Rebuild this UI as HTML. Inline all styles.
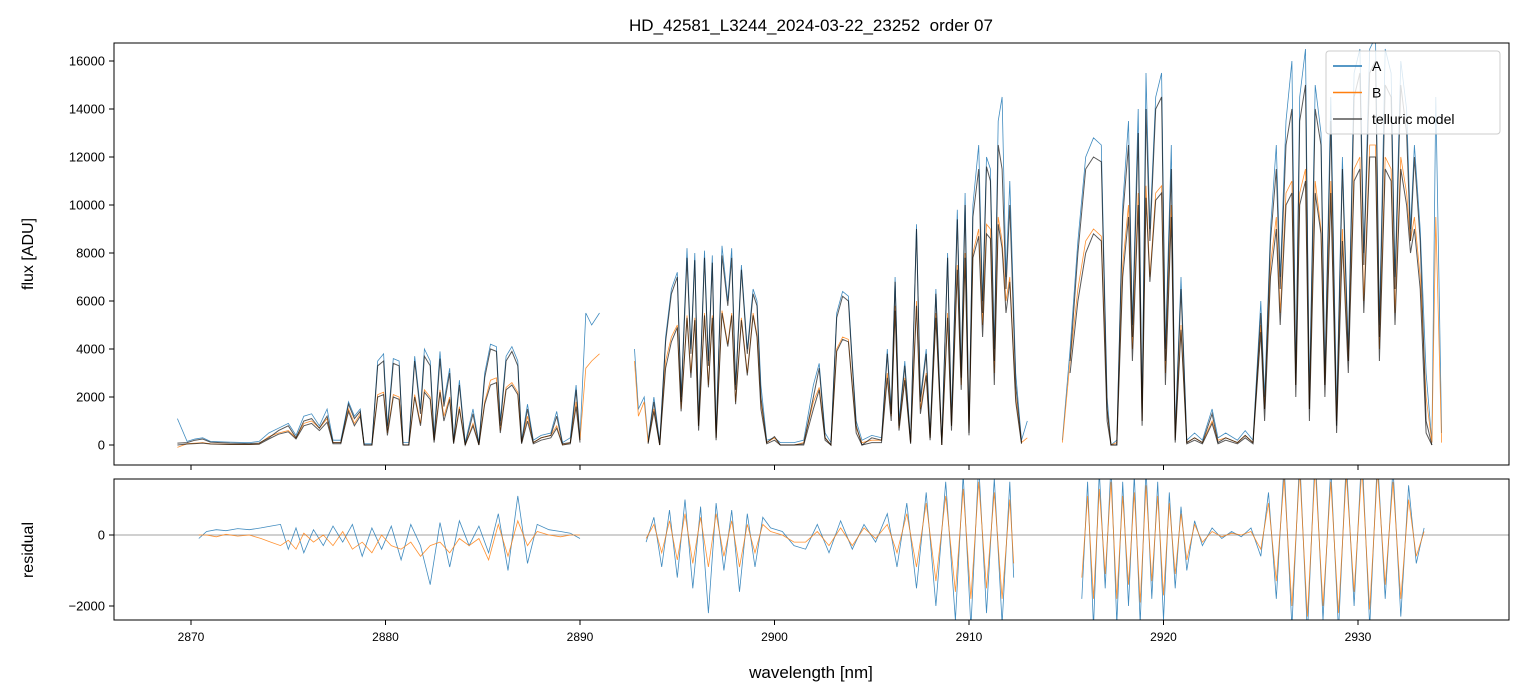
<!DOCTYPE html>
<html><head><meta charset="utf-8">
<style>
html,body{margin:0;padding:0;background:#fff;}
svg{display:block;font-family:"Liberation Sans","DejaVu Sans",sans-serif;}
</style></head>
<body>
<svg id="chart" width="1523" height="696" viewBox="0 0 1523 696" xmlns="http://www.w3.org/2000/svg">
<defs>
<clipPath id="clipTop"><rect x="114" y="43" width="1395" height="422"/></clipPath>
<clipPath id="clipBot"><rect x="114" y="479" width="1395" height="141"/></clipPath>
</defs>
<text x="811" y="31" font-size="17" text-anchor="middle" fill="#000" xml:space="preserve">HD_42581_L3244_2024-03-22_23252  order 07</text>
<g id="topPanel"></g>
<g id="botPanel"></g>
<text x="33" y="254" font-size="16" text-anchor="middle" transform="rotate(-90 33 254)">flux [ADU]</text>
<text x="33" y="550" font-size="16" text-anchor="middle" transform="rotate(-90 33 550)">residual</text>
<text x="811" y="678" font-size="17" text-anchor="middle">wavelength [nm]</text>
</svg>
<script>
const wavelengths=[2869.3,2869.8,2870.2,2870.6,2871.0,2872.0,2873.0,2873.5,2874.0,2874.5,2875.0,2875.4,2875.8,2876.2,2876.6,2877.0,2877.3,2877.7,2878.1,2878.4,2878.7,2878.9,2879.3,2879.6,2879.9,2880.1,2880.4,2880.7,2880.9,2881.2,2881.5,2881.8,2882.0,2882.3,2882.5,2882.8,2883.0,2883.3,2883.5,2883.8,2884.1,2884.5,2884.8,2885.1,2885.4,2885.7,2885.9,2886.2,2886.5,2886.8,2887.0,2887.3,2887.6,2888.0,2888.5,2888.8,2889.1,2889.5,2889.8,2890.0,2890.3,2890.6,2891.0,2891.1,2892.7,2892.8,2893.0,2893.3,2893.5,2893.8,2894.1,2894.4,2894.7,2895.0,2895.2,2895.5,2895.7,2895.9,2896.1,2896.4,2896.6,2896.8,2897.0,2897.3,2897.6,2897.8,2898.0,2898.3,2898.6,2898.9,2899.1,2899.3,2899.6,2900.0,2900.3,2901.0,2901.5,2902.0,2902.3,2902.6,2902.9,2903.2,2903.5,2903.8,2904.0,2904.2,2904.5,2905.0,2905.5,2905.8,2906.0,2906.2,2906.4,2906.7,2907.0,2907.3,2907.5,2907.8,2908.0,2908.3,2908.6,2908.9,2909.1,2909.4,2909.6,2909.8,2910.0,2910.2,2910.5,2910.7,2910.9,2911.1,2911.3,2911.5,2911.7,2911.9,2912.1,2912.4,2912.7,2913.0,2913.1,2914.7,2914.8,2915.2,2915.6,2916.0,2916.4,2916.8,2917.1,2917.3,2917.6,2917.9,2918.2,2918.4,2918.7,2918.9,2919.1,2919.3,2919.6,2919.9,2920.1,2920.4,2920.6,2920.9,2921.2,2921.6,2922.0,2922.5,2922.8,2923.2,2923.8,2924.2,2924.6,2925.0,2925.2,2925.5,2925.8,2926.0,2926.3,2926.6,2926.8,2927.0,2927.3,2927.5,2927.8,2928.1,2928.3,2928.6,2928.9,2929.2,2929.5,2929.8,2930.1,2930.3,2930.6,2930.9,2931.1,2931.4,2931.7,2931.9,2932.2,2932.5,2932.7,2932.9,2933.2,2933.5,2933.8,2934.0,2934.3];
const fluxA=[1100,150,250,300,150,120,100,150,500,700,900,400,1200,1300,800,1500,200,200,1800,1200,1500,50,50,3500,3800,800,3600,3500,100,100,3700,1500,4000,3500,400,3900,1800,3200,200,2700,100,1500,100,3000,4200,4100,1000,3700,4100,3500,200,1700,200,400,500,1400,100,300,2500,300,5500,5000,5500,null,null,4000,1500,2000,200,2000,100,4500,6500,7200,2000,8200,4000,8000,1000,8100,3500,7900,500,8300,6000,8200,2500,7500,4000,6500,6000,2500,200,300,100,100,200,2500,3400,500,100,5500,6400,6200,3500,1000,200,400,300,4000,1500,7000,1000,3500,200,9200,2000,4000,500,6500,100,8000,1000,9800,3000,10500,800,10000,12500,6000,12000,11500,4000,13500,14500,7000,11000,3000,200,1000,null,null,200,4000,8500,12000,12800,12500,2000,0,200,10000,13500,5000,14000,1500,15500,9000,14500,15500,4000,12500,500,7000,200,500,200,1500,300,500,200,600,200,6000,2000,9000,12500,7000,13500,16000,3000,14500,16500,2000,15000,13000,3000,14500,1500,12000,4000,15500,16500,8000,16500,17000,5000,16500,15500,7000,16000,14000,9000,12500,9000,3000,100,14500,500];
const fluxB=[-100,50,80,100,50,30,20,50,350,500,600,300,900,1000,700,1100,100,100,1500,900,1300,0,0,2100,2200,500,2100,2000,0,0,2100,900,2300,2000,200,2300,1200,2000,100,1600,0,900,0,1800,2700,2800,600,2400,2600,2200,100,1200,100,300,400,800,0,100,1800,200,3200,3500,3800,null,null,3500,1200,1800,100,1500,0,3500,4500,5000,1500,5400,3000,5300,800,5500,2500,5400,300,5600,4200,5500,1800,5300,3000,5500,4600,1800,100,300,0,0,100,1800,2400,300,0,4000,4500,4400,2500,700,100,200,200,3000,1200,5800,700,2800,100,6000,1500,3000,300,5500,0,5500,800,7500,2500,8000,600,8000,9000,5000,9200,9000,3000,9500,8500,6000,7000,2000,100,300,null,null,100,3500,6500,8500,9000,8700,1500,0,100,7500,10000,4000,10500,1000,10800,7000,10500,10800,3000,10000,300,5000,100,300,100,1000,200,300,100,400,100,5000,1500,7500,9500,5500,10500,11000,2500,10500,11500,1500,11000,9000,2500,11000,1000,9000,3500,11500,12000,6000,12500,12500,4000,12000,11500,5500,12000,10500,8500,9500,7000,2000,100,9500,100];
const modelA=[80,100,200,250,120,80,60,80,300,600,800,300,1000,1100,700,1200,100,100,1700,1100,1400,0,0,3300,3500,600,3400,3300,0,0,3500,1300,3700,3300,200,3600,1600,3000,100,2500,0,1300,0,2800,4000,3900,800,3500,3900,3300,100,1500,100,300,400,1200,50,100,2300,200,null,null,null,null,null,null,null,null,100,1800,0,4300,6300,7000,1800,7800,3800,7700,800,7800,3300,7600,300,7900,5800,7800,2300,7300,3800,6300,5800,2000,100,350,0,0,50,2000,3200,300,0,5300,6200,6000,3300,800,0,300,200,3800,1300,6800,800,3300,100,9000,1800,3800,300,6300,0,7800,800,9400,2800,10000,500,9500,11500,5500,11600,11000,3500,12500,11500,6500,10000,2500,100,null,null,null,null,3500,8000,11500,12000,11800,1500,0,0,9500,12500,4500,13000,1000,14000,8500,14000,14500,3500,11500,200,6500,100,300,100,1300,100,300,100,400,100,5500,1500,8500,11500,6500,12500,14000,2500,13500,15000,1500,14000,12500,2500,13500,800,11500,3500,14500,15500,7500,15500,16000,4500,15000,14500,6500,15000,13000,8500,12000,8500,1000,0,null,null];
const modelB=[0,40,60,80,40,20,20,30,250,450,550,250,800,900,600,950,50,50,1400,800,1200,0,0,2000,2100,400,2000,1900,0,0,2000,800,2200,1900,100,2200,1000,1900,50,1500,0,800,0,1700,2500,2600,500,2300,2500,2100,50,1000,50,200,300,700,0,50,1600,100,null,null,null,null,null,null,null,null,50,1400,0,3200,4300,4900,1400,5300,2800,5200,600,5400,2400,5300,200,5500,4100,5400,1700,5200,2900,5400,4500,1500,50,200,0,0,0,1500,2300,200,0,3900,4400,4300,2400,500,0,100,100,2800,1000,5600,600,2700,50,5800,1300,2900,200,5300,0,5300,600,7300,2300,7800,400,7800,8700,4500,8800,8600,2500,9200,8200,5500,6800,1800,50,null,null,null,null,3000,6000,8000,8800,8500,1000,0,0,7000,9500,3500,10000,800,10300,6800,10200,10500,2500,9500,100,4800,50,200,50,900,50,200,50,300,50,4700,1000,7000,9000,5000,10000,10500,2000,10000,11000,1000,10500,8800,2000,10500,500,8500,3000,11000,11500,5500,12000,12000,3500,11500,11000,5000,11500,10000,8000,9000,6500,500,0,null,null];

const resWave=[2870.4,2870.8,2871.3,2871.8,2872.4,2873.0,2873.6,2874.1,2874.6,2875.0,2875.4,2875.8,2876.3,2876.8,2877.3,2877.8,2878.3,2878.8,2879.3,2879.8,2880.3,2880.8,2881.3,2881.8,2882.3,2882.8,2883.3,2883.8,2884.3,2884.8,2885.3,2885.8,2886.3,2886.8,2887.3,2887.8,2888.4,2889.0,2889.5,2890.0,null,2893.4,2893.8,2894.2,2894.6,2895.0,2895.4,2895.8,2896.2,2896.6,2897.0,2897.4,2897.8,2898.2,2898.6,2899.0,2899.4,2899.8,2900.4,2901.0,2901.6,2902.2,2902.8,2903.4,2904.0,2904.6,2905.2,2905.8,2906.3,2906.8,2907.3,2907.8,2908.3,2908.8,2909.3,2909.7,2910.1,2910.5,2910.9,2911.3,2911.7,2912.1,2912.3,null,2915.8,2916.1,2916.4,2916.7,2917.0,2917.3,2917.6,2917.9,2918.2,2918.5,2918.8,2919.1,2919.4,2919.7,2920.0,2920.3,2920.6,2920.9,2921.2,2921.6,2922.0,2922.5,2923.0,2923.5,2924.0,2924.5,2925.0,2925.4,2925.8,2926.2,2926.6,2927.0,2927.4,2927.8,2928.2,2928.6,2929.0,2929.4,2929.8,2930.2,2930.6,2931.0,2931.4,2931.8,2932.2,2932.6,2933.0,2933.4];
const resA=[-100,100,150,120,180,150,200,250,300,-400,200,-500,150,-300,250,-200,300,-600,200,-400,250,-700,300,-300,-1400,350,-900,400,-300,250,-500,600,-1000,1100,-800,300,150,100,50,-100,null,-200,500,-900,700,-1200,1000,-1500,800,-2200,900,-1000,700,-1600,600,-900,500,200,100,-300,-400,300,-500,400,-400,300,-200,600,-900,900,-1500,1200,-2000,1500,-2400,1700,-2600,2000,-2200,1600,-2500,1500,-1200,null,-1800,1500,-2600,1800,-1500,2000,-2500,1500,-2000,1700,-2500,1900,-1800,1500,-2400,1200,-1500,800,-1000,400,-300,200,-100,100,-50,200,-600,1200,-1800,2000,-2600,2200,-2800,2300,-2400,1900,-2700,2100,-2000,2400,-2600,2200,-1800,1900,-2300,1400,-800,200];
const resB=[0,0,-50,20,-30,0,-100,-200,-300,-150,-400,50,-200,0,-300,100,-400,-200,-500,0,-300,-400,-200,-600,-300,-200,-500,-100,-300,-100,-700,300,-600,400,-300,100,0,-50,0,0,null,-100,300,-500,400,-700,600,-800,500,-900,600,-600,400,-900,300,-500,300,100,0,-200,-200,100,-300,200,-300,200,-100,300,-500,600,-900,900,-1300,1100,-1600,1300,-1800,1500,-1500,1200,-1800,1000,-800,null,-1200,1100,-1800,1300,-1100,1500,-1800,1100,-1400,1200,-1900,1400,-1300,1100,-1700,900,-1100,600,-700,300,-200,100,-50,50,0,100,-400,900,-1300,1600,-2000,1800,-2300,1900,-2000,1500,-2200,1700,-1600,1900,-2100,1800,-1400,1500,-1800,1000,-600,100];

const xTicks=[2870,2880,2890,2900,2910,2920,2930];
const yTicksTop=[0,2000,4000,6000,8000,10000,12000,14000,16000];
const yTicksBot=[0,-2000];
const seriesNames=["A","B","telluric model"];

const NS="http://www.w3.org/2000/svg";
const xs=w=>191+(w-2870)*(1358-191)/60;
const yTop=v=>445-v*0.024;
const yBot=v=>535-v*0.0355;
function mk(tag,attrs,parent){const e=document.createElementNS(NS,tag);for(const k in attrs)e.setAttribute(k,attrs[k]);parent.appendChild(e);return e;}
function pathFrom(xsArr,ys,yf){let d="",pen=false;for(let i=0;i<xsArr.length;i++){const w=xsArr[i],v=ys[i];if(w==null||v==null){pen=false;continue;}d+=(pen?"L":"M")+xs(w).toFixed(1)+" "+yf(v).toFixed(1);pen=true;}return d;}

const topG=document.getElementById('topPanel'),botG=document.getElementById('botPanel');
const gT=mk('g',{'clip-path':'url(#clipTop)'},topG);
let p;
p=mk('path',{d:pathFrom(wavelengths,fluxA,yTop),fill:'none',stroke:'#1f77b4','stroke-width':0.8,'stroke-opacity':0.85},gT);


p=mk('path',{d:pathFrom(wavelengths,fluxB,yTop),fill:'none',stroke:'#ff7f0e','stroke-width':0.8,'stroke-opacity':0.85},gT);


p=mk('path',{d:pathFrom(wavelengths,modelA,yTop),fill:'none',stroke:'#000','stroke-width':1,'stroke-opacity':0.65},gT);


p=mk('path',{d:pathFrom(wavelengths,modelB,yTop),fill:'none',stroke:'#000','stroke-width':1,'stroke-opacity':0.65},gT);



const gB=mk('g',{'clip-path':'url(#clipBot)'},botG);
p=mk('line',{x1:114,x2:1509,y1:yBot(0),y2:yBot(0),stroke:'#808080','stroke-width':0.8},gB);


p=mk('path',{d:pathFrom(resWave,resA,yBot),fill:'none',stroke:'#1f77b4','stroke-width':0.8,'stroke-opacity':0.85},gB);


p=mk('path',{d:pathFrom(resWave,resB,yBot),fill:'none',stroke:'#ff7f0e','stroke-width':0.8,'stroke-opacity':0.85},gB);



p=mk('rect',{x:114,y:43,width:1395,height:422,fill:'none',stroke:'#000','stroke-width':1},topG);


p=mk('rect',{x:114,y:479,width:1395,height:141,fill:'none',stroke:'#000','stroke-width':1},botG);



xTicks.forEach(t=>{
  const x=xs(t);
  mk('line',{x1:x,x2:x,y1:465,y2:470,stroke:'#000'},topG);
  mk('line',{x1:x,x2:x,y1:620,y2:625,stroke:'#000'},botG);
  const tx=mk('text',{x:x,y:641,'font-size':12,'text-anchor':'middle'},botG);
  tx.textContent=t;
  
  
});
yTicksTop.forEach(t=>{
  const y=yTop(t);
  mk('line',{x1:109,x2:114,y1:y,y2:y,stroke:'#000'},topG);
  const tx=mk('text',{x:105,y:y+4.5,'font-size':13,'text-anchor':'end'},topG);
  tx.textContent=t;
  
  
});
yTicksBot.forEach(t=>{
  const y=yBot(t);
  mk('line',{x1:109,x2:114,y1:y,y2:y,stroke:'#000'},botG);
  const tx=mk('text',{x:105,y:y+4.5,'font-size':13,'text-anchor':'end'},botG);
  tx.textContent=t<0?'\u2212'+Math.abs(t):t;
  
  
});

const lg=mk('g',{},topG);


mk('rect',{x:1326,y:51,width:174,height:83,rx:3,fill:'#fff','fill-opacity':0.8,stroke:'#ccc'},lg);
const lcols=['#1f77b4','#ff7f0e','#555'];
seriesNames.forEach((n,i)=>{
  const y=66+i*26.5;
  const ent=mk('g',{},lg);
  
  
  mk('line',{x1:1333,x2:1362,y1:y,y2:y,stroke:lcols[i],'stroke-width':1.5},ent);
  const tx=mk('text',{x:1372,y:y+5,'font-size':14},ent);
  tx.textContent=n;
});
</script>
</body></html>
